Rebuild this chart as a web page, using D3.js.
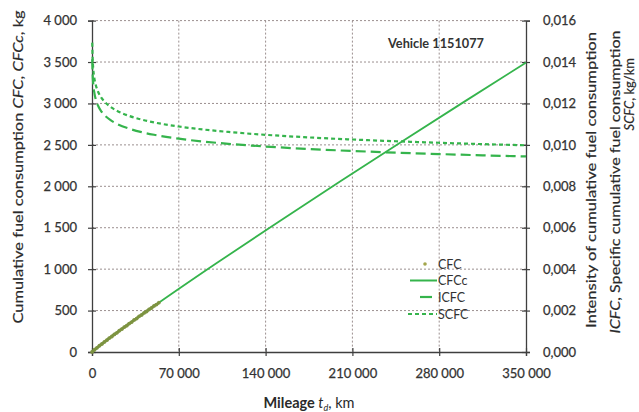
<!DOCTYPE html>
<html>
<head>
<meta charset="utf-8">
<script src="https://cdn.jsdelivr.net/npm/d3@7"></script>
<style>
  html, body { margin: 0; padding: 0; background: #ffffff; }
  svg { display: block; font-family: Lato, "Open Sans", sans-serif; }
</style>
</head>
<body>
<svg id="chart" width="639" height="412"></svg>
<script>
// Mileage ticks (km) and left / right axis ticks
const xTicks = [0, 70000, 140000, 210000, 280000, 350000];
const yTicks = [0, 500, 1000, 1500, 2000, 2500, 3000, 3500, 4000];
const y2Ticks = [0, 0.002, 0.004, 0.006, 0.008, 0.010, 0.012, 0.014, 0.016];

// Observed cumulative fuel consumption CFC, kg
const cfcMileage = [0, 2000, 4000, 6000, 8000, 10000, 12000, 14000, 16000, 18000, 20000,
  22000, 24000, 26000, 28000, 30000, 32000, 34000, 36000, 38000, 40000,
  42000, 44000, 46000, 48000, 50000, 52000, 54000];
const cfcValues = [0, 27, 50, 76, 97, 122, 143, 168, 187, 212, 231,
  257, 276, 300, 318, 343, 361, 387, 404, 430, 447,
  472, 489, 514, 531, 556, 573, 597];

// Calculated cumulative fuel consumption CFCc, kg
const cfccMileage = [0, 10000, 25000, 50000, 100000, 150000, 200000, 250000, 300000, 350000];
const cfccValues = [0, 121, 288, 554, 1068, 1567, 2057, 2541, 3019, 3493];

// Intensity (ICFC) and specific (SCFC) cumulative fuel consumption, kg/km
const rateMileage = [200, 500, 1000, 2000, 3000, 5000, 7500, 10000, 15000, 20000, 30000,
  40000, 50000, 70000, 90000, 110000, 140000, 175000, 210000, 245000, 280000, 315000, 350000];
const scfcValues = [0.014936, 0.014216, 0.013694, 0.013189, 0.012904, 0.012554, 0.012282,
  0.012093, 0.011830, 0.011648, 0.011396, 0.011220, 0.011086, 0.010886, 0.010740,
  0.010624, 0.010486, 0.010360, 0.010259, 0.010174, 0.010101, 0.010037, 0.009980];
const icfcValues = [0.014130, 0.013448, 0.012955, 0.012477, 0.012207, 0.011876, 0.011619,
  0.011440, 0.011191, 0.011019, 0.010781, 0.010614, 0.010487, 0.010298, 0.010160,
  0.010050, 0.009920, 0.009801, 0.009705, 0.009625, 0.009556, 0.009495, 0.009441];

const seriesNames = ["CFC", "CFCc", "ICFC", "SCFC"];

const green = "#35b44c";
const olive = "#7f9440";
const axisColor = "#3f3f3f";
const gridColor = "#9b8f8f";
const textColor = "#333333";

const svg = d3.select("#chart");
const plot = { left: 92, right: 526, top: 20.6, bottom: 352 };

const x = d3.scaleLinear().domain([0, 350000]).range([plot.left, plot.right]);
const y = d3.scaleLinear().domain([0, 4000]).range([plot.bottom, plot.top]);
const y2 = d3.scaleLinear().domain([0, 0.016]).range([plot.bottom, plot.top]);

const fmtInt = v => d3.format(",")(v).replace(/,/g, " ");
const fmtDec = v => d3.format(".3f")(v).replace(".", ",");

// dotted grid
const grid = svg.append("g");
grid.selectAll("line.h").data(yTicks.filter(d => d > 0)).join("line")
  .attr("x1", plot.left).attr("x2", plot.right)
  .attr("y1", d => y(d)).attr("y2", d => y(d))
  .attr("stroke", gridColor).attr("stroke-width", 1).attr("stroke-dasharray", "2,2");
grid.selectAll("line.v").data(xTicks.filter(d => d > 0 && d < 350000)).join("line")
  .attr("x1", d => x(d)).attr("x2", d => x(d))
  .attr("y1", plot.top).attr("y2", plot.bottom)
  .attr("stroke", gridColor).attr("stroke-width", 1).attr("stroke-dasharray", "2,2");

// axes with crossing tick marks
function styleAxis(g, horizontal) {
  g.select(".domain").attr("stroke", axisColor).attr("stroke-width", 1.3);
  g.selectAll(".tick line").attr("stroke", axisColor).attr("stroke-width", 1.2);
  if (horizontal) g.selectAll(".tick line").attr("y1", -4).attr("y2", 4);
  else g.selectAll(".tick line").attr("x1", -4).attr("x2", 4);
  g.selectAll(".tick text").attr("fill", textColor).attr("font-size", 13)
    .attr("stroke", textColor).attr("stroke-width", 0.25)
    .attr("font-family", "Lato, sans-serif");
}

const gx = svg.append("g").attr("transform", `translate(0,${plot.bottom})`)
  .call(d3.axisBottom(x).tickValues(xTicks).tickFormat(fmtInt).tickSizeOuter(0).tickSize(4).tickPadding(13));
styleAxis(gx, true);

const gy = svg.append("g").attr("transform", `translate(${plot.left},0)`)
  .call(d3.axisLeft(y).tickValues(yTicks).tickFormat(fmtInt).tickSizeOuter(0).tickSize(4).tickPadding(11));
styleAxis(gy, false);

const gy2 = svg.append("g").attr("transform", `translate(${plot.right},0)`)
  .call(d3.axisRight(y2).tickValues(y2Ticks).tickFormat(fmtDec).tickSizeOuter(0).tickSize(4).tickPadding(13));
styleAxis(gy2, false);

// series
const cfcc = cfccMileage.map((m, i) => [m, cfccValues[i]]);
const scfc = rateMileage.map((m, i) => [m, scfcValues[i]]);
const icfc = rateMileage.map((m, i) => [m, icfcValues[i]]);
const cfc = cfcMileage.map((m, i) => [m, cfcValues[i]]);

const lineLeft = d3.line().x(d => x(d[0])).y(d => y(d[1])).curve(d3.curveMonotoneX);
const lineRight = d3.line().x(d => x(d[0])).y(d => y2(d[1])).curve(d3.curveMonotoneX);

svg.append("path").datum(scfc).attr("d", lineRight)
  .attr("fill", "none").attr("stroke", green).attr("stroke-width", 2.2)
  .attr("stroke-dasharray", "4,3");
svg.append("path").datum(icfc).attr("d", lineRight)
  .attr("fill", "none").attr("stroke", green).attr("stroke-width", 2.2)
  .attr("stroke-dasharray", "10,5");
svg.append("path").datum(cfcc).attr("d", lineLeft)
  .attr("fill", "none").attr("stroke", green).attr("stroke-width", 1.8);

svg.append("path").datum(cfc).attr("d", lineLeft)
  .attr("fill", "none").attr("stroke", "#6c8a3a").attr("stroke-width", 3).attr("opacity", 0.8);
svg.append("g").selectAll("circle").data(cfc).join("circle")
  .attr("cx", d => x(d[0])).attr("cy", d => y(d[1])).attr("r", 1.9)
  .attr("fill", olive).attr("opacity", 0.9);

// vehicle label
svg.append("text").attr("x", 388).attr("y", 48)
  .attr("font-size", 12.5).attr("font-weight", 700).attr("fill", "#333")
  .attr("textLength", 96).attr("lengthAdjust", "spacingAndGlyphs")
  .text("Vehicle 1151077");

// legend
const legend = svg.append("g");
const legY = [264, 280.5, 297, 314];
const legTextX = 438;
legend.append("circle").attr("cx", 425).attr("cy", legY[0]).attr("r", 1.8).attr("fill", "#a3a64c");
legend.append("line").attr("x1", 410).attr("x2", 437).attr("y1", legY[1]).attr("y2", legY[1])
  .attr("stroke", green).attr("stroke-width", 2);
legend.append("line").attr("x1", 420).attr("x2", 432).attr("y1", legY[2]).attr("y2", legY[2])
  .attr("stroke", green).attr("stroke-width", 2.2);
legend.append("line").attr("x1", 408).attr("x2", 437).attr("y1", legY[3]).attr("y2", legY[3])
  .attr("stroke", green).attr("stroke-width", 2.2).attr("stroke-dasharray", "4,3");
legend.selectAll("text").data(seriesNames).join("text")
  .attr("x", legTextX).attr("y", (d, i) => legY[i]).attr("dy", "0.36em")
  .attr("font-size", 12.5).attr("fill", textColor).text(d => d);

// axis titles
const xTitle = svg.append("text").attr("x", 309).attr("y", 408)
  .attr("text-anchor", "middle").attr("font-size", 14.5).attr("fill", "#2a2a2a");
xTitle.append("tspan").attr("font-weight", 700).text("Mileage ");
xTitle.append("tspan").attr("font-style", "italic").text("t");
xTitle.append("tspan").attr("font-style", "italic").attr("font-size", 9).attr("dy", 3).text("d");
xTitle.append("tspan").attr("dy", -3).text(", km");

const yTitle = svg.append("text")
  .attr("transform", "translate(23,167) rotate(-90)")
  .attr("text-anchor", "middle").attr("font-size", 14).attr("fill", "#2a2a2a")
  .attr("stroke", "#2a2a2a").attr("stroke-width", 0.2)
  .attr("textLength", 313).attr("lengthAdjust", "spacingAndGlyphs");
yTitle.append("tspan").text("Cumulative fuel consumption ");
yTitle.append("tspan").attr("font-style", "italic").text("CFC");
yTitle.append("tspan").text(", ");
yTitle.append("tspan").attr("font-style", "italic").text("CFCc");
yTitle.append("tspan").text(", kg");

svg.append("text")
  .attr("transform", "translate(596,180) rotate(-90)")
  .attr("text-anchor", "middle").attr("font-size", 14).attr("fill", "#2a2a2a")
  .attr("stroke", "#2a2a2a").attr("stroke-width", 0.2)
  .attr("textLength", 296).attr("lengthAdjust", "spacingAndGlyphs")
  .text("Intensity of cumulative fuel consumption");

const r2 = svg.append("text")
  .attr("transform", "translate(620,182) rotate(-90)")
  .attr("text-anchor", "middle").attr("font-size", 14).attr("fill", "#2a2a2a")
  .attr("stroke", "#2a2a2a").attr("stroke-width", 0.2)
  .attr("textLength", 303).attr("lengthAdjust", "spacingAndGlyphs");
r2.append("tspan").attr("font-style", "italic").text("ICFC");
r2.append("tspan").text(", Specific cumulative fuel consumption");

const r3 = svg.append("text")
  .attr("transform", "translate(634,58) rotate(-90)")
  .attr("text-anchor", "end").attr("font-size", 13).attr("fill", "#2a2a2a")
  .attr("stroke", "#2a2a2a").attr("stroke-width", 0.2);
r3.append("tspan").attr("font-style", "italic").text("SCFC");
r3.append("tspan").text(", kg/km");
</script>
</body>
</html>
